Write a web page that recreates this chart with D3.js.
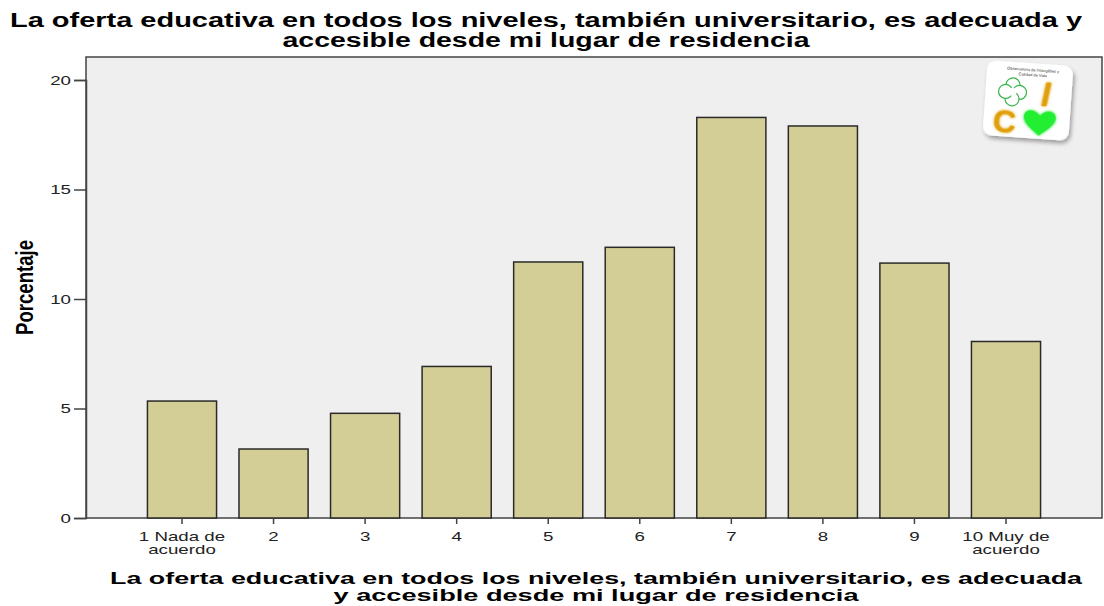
<!DOCTYPE html>
<html>
<head>
<meta charset="utf-8">
<script src="https://cdn.jsdelivr.net/npm/d3@7"></script>
<style>
  html, body { margin: 0; padding: 0; background: #ffffff; }
  svg { display: block; }
</style>
</head>
<body>
<svg id="chart" width="1104" height="606"></svg>
<script>
const categories = ["1 Nada de|acuerdo", "2", "3", "4", "5", "6", "7", "8", "9", "10 Muy de|acuerdo"];
const values = [5.34, 3.15, 4.78, 6.92, 11.69, 12.36, 18.29, 17.90, 11.64, 8.06];
const yTicks = [0, 5, 10, 15, 20];
const titleLines = ["La oferta educativa en todos los niveles, también universitario, es adecuada y", "accesible desde mi lugar de residencia"];
const xTitleLines = ["La oferta educativa en todos los niveles, también universitario, es adecuada", "y accesible desde mi lugar de residencia"];
const yTitle = "Porcentaje";

const SX = 1.44; // horizontal stretch of the text in the reference
const FONT = "Liberation Sans, Arial, sans-serif";
const svg = d3.select("#chart");
const W = 1104, H = 606;
const m = { left: 86, right: 2, top: 57, bottom: 88 };
const x0 = m.left, x1 = W - m.right, y0 = H - m.bottom, yTop = m.top;

const x = d3.scaleBand().domain(categories).range([x0, x1]).paddingInner(0.245).paddingOuter(0.671);
const y = d3.scaleLinear().domain([0, 20]).range([y0, 80]);

// plot background
svg.append("rect").attr("x", x0).attr("y", yTop).attr("width", x1 - x0).attr("height", y0 - yTop)
  .attr("fill", "#efefef").attr("stroke", "#444").attr("stroke-width", 1.5);

// bars
svg.append("g").selectAll("rect").data(values).join("rect")
  .attr("x", (d, i) => x(categories[i]))
  .attr("y", d => y(d))
  .attr("width", x.bandwidth())
  .attr("height", d => y(0) - y(d))
  .attr("fill", "#d3ce96")
  .attr("stroke", "#2a2a2a")
  .attr("stroke-width", 1.5);

// y axis
const yAxis = svg.append("g").attr("transform", `translate(${x0},0)`)
  .call(d3.axisLeft(y).tickValues(yTicks).tickSize(12).tickPadding(3));
yAxis.select(".domain").attr("stroke", "#444").attr("stroke-width", 1.5);
yAxis.selectAll(".tick line").attr("stroke", "#444").attr("stroke-width", 1.5);
yAxis.selectAll(".tick text")
  .attr("x", -15 / SX)
  .attr("transform", `scale(${SX},1)`)
  .attr("font-family", FONT).attr("font-size", 13).attr("fill", "#222");

// x axis
const xAxis = svg.append("g").attr("transform", `translate(0,${y0})`)
  .call(d3.axisBottom(x).tickSize(6).tickFormat(""));
xAxis.select(".domain").remove();
xAxis.selectAll(".tick line").attr("stroke", "#444").attr("stroke-width", 1.5);
xAxis.selectAll(".tick").each(function(d) {
  const parts = d.split("|");
  const t = d3.select(this).append("text")
    .attr("text-anchor", "middle")
    .attr("transform", `scale(${SX},1)`)
    .attr("font-family", FONT)
    .attr("font-size", 13).attr("fill", "#222");
  parts.forEach((p, k) => t.append("tspan").attr("x", 0).attr("y", 23 + k * 13).text(p));
});

// titles
const titleW = [1072, 527];
titleLines.forEach((l, k) => {
  svg.append("text").attr("text-anchor", "middle")
    .attr("x", 546).attr("y", 27 + k * 20)
    .attr("textLength", titleW[k]).attr("lengthAdjust", "spacingAndGlyphs")
    .attr("font-family", FONT).attr("font-weight", "bold")
    .attr("font-size", 20).attr("fill", "#000").text(l);
});

const xTitleW = [972, 525];
xTitleLines.forEach((l, k) => {
  svg.append("text").attr("text-anchor", "middle")
    .attr("x", 596).attr("y", 584 + k * 17)
    .attr("textLength", xTitleW[k]).attr("lengthAdjust", "spacingAndGlyphs")
    .attr("font-family", FONT).attr("font-weight", "bold")
    .attr("font-size", 17).attr("fill", "#000").text(l);
});

svg.append("text").attr("transform", `translate(33,${(yTop + y0) / 2}) rotate(-90) scale(1,${SX})`)
  .attr("text-anchor", "middle")
  .attr("textLength", 95).attr("lengthAdjust", "spacingAndGlyphs")
  .attr("font-family", FONT).attr("font-weight", "bold")
  .attr("font-size", 16).attr("fill", "#000").text(yTitle);

// logo
const defs = svg.append("defs");
const f = defs.append("filter").attr("id", "sh").attr("x", "-20%").attr("y", "-20%").attr("width", "140%").attr("height", "140%");
f.append("feDropShadow").attr("dx", 2).attr("dy", 3).attr("stdDeviation", 2).attr("flood-color", "#000").attr("flood-opacity", 0.35);
const gl = defs.append("filter").attr("id", "glow").attr("x", "-30%").attr("y", "-30%").attr("width", "160%").attr("height", "160%");
gl.append("feGaussianBlur").attr("stdDeviation", 1.5).attr("result", "b");
const mg = gl.append("feMerge"); mg.append("feMergeNode").attr("in", "b"); mg.append("feMergeNode").attr("in", "SourceGraphic");

const g = svg.append("g").attr("transform", "translate(1028,100) rotate(4)");
g.append("rect").attr("x", -43).attr("y", -37).attr("width", 86).attr("height", 75).attr("rx", 9)
  .attr("fill", "#ffffff").attr("filter", "url(#sh)");
g.append("text").attr("x", 3).attr("y", -29).attr("text-anchor", "middle").attr("font-size", 4).attr("font-family", FONT).attr("fill", "#333").text("Observatorio de Intangibles y");
g.append("text").attr("x", 3).attr("y", -24).attr("text-anchor", "middle").attr("font-size", 4).attr("font-family", FONT).attr("fill", "#333").text("Calidad de Vida");
const clover = g.append("g").attr("transform", "translate(-16,-7)");
[[0, -7], [7, 0], [0, 7], [-7, 0]].forEach(p => clover.append("circle").attr("cx", p[0]).attr("cy", p[1]).attr("r", 7)
  .attr("fill", "#fff").attr("stroke", "#3bb54a").attr("stroke-width", 1.2));
clover.append("circle").attr("r", 4).attr("fill", "#fff");
g.append("text").attr("x", 17).attr("y", 5).attr("text-anchor", "middle").attr("font-size", 34).attr("font-weight", "bold")
  .attr("transform", "skewX(-8)")
  .attr("font-family", FONT).attr("fill", "#e0a010").attr("filter", "url(#glow)").text("I");
g.append("text").attr("x", -22).attr("y", 34).attr("text-anchor", "middle").attr("font-size", 32).attr("font-weight", "bold")
  .attr("font-family", FONT).attr("fill", "#e0a010").attr("filter", "url(#glow)").text("C");
g.append("path").attr("transform", "translate(13,22)")
  .attr("d", "M0,13 C-4,9 -16,2 -16,-5 C-16,-13 -6,-15 0,-7 C6,-15 16,-13 16,-5 C16,2 4,9 0,13 Z")
  .attr("fill", "#22ee33").attr("filter", "url(#glow)");
</script>
</body>
</html>
